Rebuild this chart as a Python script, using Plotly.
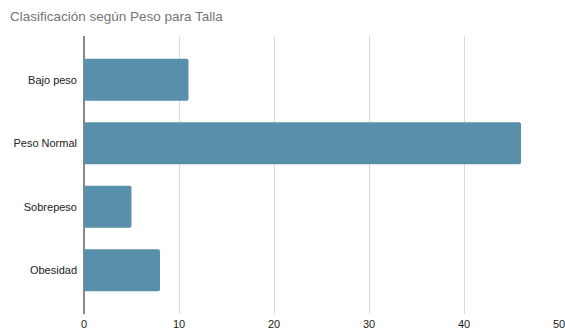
import plotly.graph_objects as go

categories = ["Bajo peso", "Peso Normal", "Sobrepeso", "Obesidad"]
values = [11, 46, 5, 8]
x_ticks = [0, 10, 20, 30, 40, 50]

fig = go.Figure(go.Bar(
    x=values, y=categories, orientation="h",
    marker=dict(color="#5890ab", line=dict(width=0)),
    width=0.66,
))

fig.update_layout(
    width=565, height=331,
    margin=dict(l=84, r=6, t=36, b=17),
    paper_bgcolor="white", plot_bgcolor="white",
    font=dict(family="Liberation Sans, Arial, sans-serif", size=11, color="#222222"),
    title=dict(text="Clasificación según Peso para Talla", xref="container", x=10/565, xanchor="left",
               y=1 - 16/331, yanchor="middle",
               font=dict(size=13.5, color="#757575")),
    barcornerradius=2,
    showlegend=False,
)

fig.update_xaxes(
    range=[0, 50], tickvals=x_ticks, showgrid=True, gridcolor="#d9d9d9", gridwidth=1,
    zeroline=True, zerolinecolor="#888888", zerolinewidth=2,
    showline=False, ticks="", ticklabeloverflow="allow", ticklabelstandoff=2,
    automargin=False, tickfont=dict(size=11, color="#222222"),
)
fig.update_yaxes(
    range=[3.6875, -0.6875], showgrid=False, zeroline=False, showline=False,
    ticks="", ticklabelstandoff=6, automargin=False, tickfont=dict(size=11, color="#222222"),
)

fig.write_html("out.html")
